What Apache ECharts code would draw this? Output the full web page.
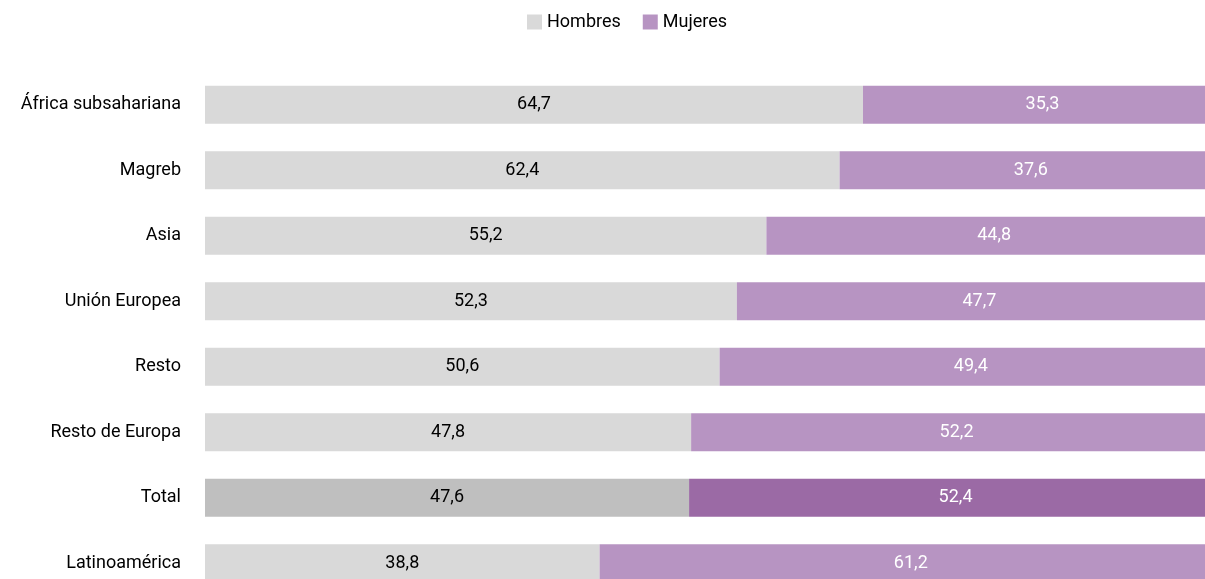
<!DOCTYPE html>
<html>
<head>
<meta charset="utf-8">
<script src="https://cdn.jsdelivr.net/npm/echarts@6/dist/echarts.min.js"></script>
<style>
  html, body { margin: 0; padding: 0; background: #fff; overflow: hidden; }
  #chart { width: 1222px; height: 596px; }
</style>
</head>
<body>
<div id="chart"></div>
<script>
'use strict';
/* Hombres / Mujeres por origen, 100% stacked bars */

var categories = ['África subsahariana', 'Magreb', 'Asia', 'Unión Europea', 'Resto', 'Resto de Europa', 'Total', 'Latinoamérica'];
var hombres = [64.7, 62.4, 55.2, 52.3, 50.6, 47.8, 47.6, 38.8];
var mujeres = [35.3, 37.6, 44.8, 47.7, 49.4, 52.2, 52.4, 61.2];

var FONT = 'Roboto, "Liberation Sans", sans-serif';
var totalIdx = categories.indexOf('Total');

// highlight the Total row with darker shades
function buildData(values, normal, dark) {
  return values.map(function(v, i) {
    return {
      value: v,
      itemStyle: { color: i === totalIdx ? dark : normal }
    };
  });
}

function fmt(p) {
  return p.value.toFixed(1).replace('.', ',');
}

// the original graphic is cropped on the right and bottom, so the
// canvas is a bit larger than the window
var chart = echarts.init(document.getElementById('chart'));
var option = {
  animation: false,
  textStyle: { fontFamily: FONT },
  legend: {
    top: 8,
    left: 522,
    itemWidth: 15,
    itemHeight: 15,
    itemGap: 22,
    icon: 'rect',
    textStyle: { fontFamily: FONT, fontSize: 18, color: '#000' },
    data: ['Hombres', 'Mujeres']
  },
  grid: {
    left: 205,
    right: 0,
    top: 72,
    bottom: 0,
    containLabel: false
  },
  xAxis: {
    type: 'value',
    min: 0,
    max: 100,
    show: false
  },
  yAxis: {
    type: 'category',
    inverse: true,
    data: categories,
    axisLine: { show: false },
    axisTick: { show: false },
    axisLabel: {
      margin: 24,
      fontFamily: FONT,
      fontSize: 18,
      color: '#000'
    }
  },
  series: [{
    name: 'Hombres',
    type: 'bar',
    stack: 'total',
    barWidth: 38,
    itemStyle: { color: '#d9d9d9' },
    label: {
      show: true,
      position: 'inside',
      fontFamily: FONT,
      fontSize: 18,
      color: '#000',
      formatter: fmt
    },
    data: buildData(hombres, '#d9d9d9', '#bfbfbf')
  }, {
    name: 'Mujeres',
    type: 'bar',
    stack: 'total',
    barWidth: 38,
    itemStyle: { color: '#b794c2' },
    label: {
      show: true,
      position: 'inside',
      fontFamily: FONT,
      fontSize: 18,
      color: '#fff',
      formatter: fmt
    },
    data: buildData(mujeres, '#b794c2', '#9b6aa5')
  }]
};
chart.setOption(option);
</script>
</body>
</html>
